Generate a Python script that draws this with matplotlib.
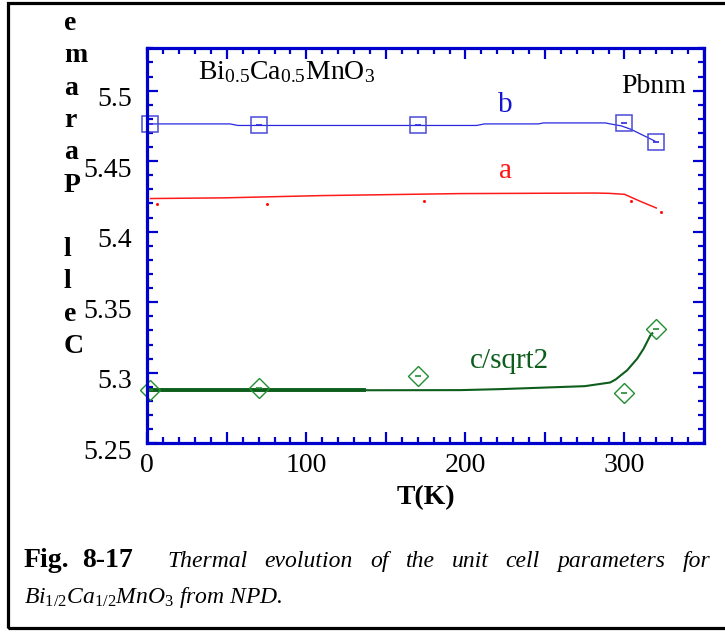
import matplotlib
matplotlib.use("Agg")
import matplotlib.pyplot as plt
from matplotlib.ticker import MultipleLocator, FuncFormatter
from matplotlib.transforms import ScaledTranslation
from matplotlib.patches import Rectangle

plt.rcParams['font.family'] = ['Liberation Serif', 'DejaVu Serif']
plt.rcParams['mathtext.fontset'] = 'custom'
plt.rcParams['mathtext.rm'] = 'Liberation Serif'
plt.rcParams['mathtext.it'] = 'Liberation Serif:italic'
plt.rcParams['mathtext.bf'] = 'Liberation Serif:bold'

# measured points (T in K, cell parameter in A)
T_pts = [2, 70, 170, 300, 320]
b_pts = [5.4764, 5.4753, 5.4753, 5.4769, 5.4638]
c_pts = [5.2876, 5.2893, 5.2975, 5.2858, 5.3307]
a_dot_T = [6, 75, 174, 304, 323]
a_dots = [5.4193, 5.4193, 5.4216, 5.4220, 5.4138]

# continuous curves
b_line_T = [2, 52, 57, 207, 212, 246, 249, 288, 292, 298, 304, 319]
b_line = [5.4764, 5.4764, 5.4753, 5.4753, 5.4764, 5.4764, 5.4771, 5.4771,
          5.4762, 5.4750, 5.4726, 5.4643]
a_line_T = [2, 49, 110, 135, 196, 281, 290, 300, 310, 320]
a_line = [5.4235, 5.4240, 5.4256, 5.4260, 5.4270, 5.4274, 5.4272, 5.4265,
          5.4215, 5.4168]
c_line_T = [2, 136, 197, 222, 275, 291, 294.4, 301.7, 308, 312, 316.3, 317.5]
c_line = [5.2876, 5.2876, 5.2877, 5.2884, 5.2905, 5.2931, 5.2952, 5.3018,
          5.3100, 5.3170, 5.3265, 5.3280]

W, H = 725, 639
fig = plt.figure(figsize=(W / 100, H / 100), dpi=100)
ax = fig.add_axes([147.3 / W, 1 - 443.3 / H, (704 - 147.3) / W, (443.3 - 48.3) / H])

blue = '#0000cc'
ax.plot(b_line_T, b_line, color='#2828e0', lw=0.9)
ax.plot(T_pts, b_pts, ls='none', marker='s', ms=12, mfc='none', mec='#4a4ad8', mew=1.1, clip_on=False)
ax.plot(T_pts, b_pts, ls='none', marker='_', ms=4, mec='#2828e0', mew=1.2, clip_on=False)

ax.plot(a_line_T, a_line, color='#ff1a1a', lw=1.1)
ax.plot(a_dot_T, a_dots, ls='none', marker='s', ms=1.0, mfc='red', mec='red')

thick = [i for i, t in enumerate(c_line_T) if t <= 136]
ax.plot(c_line_T, c_line, color='#0d5e1c', lw=1.5)
ax.plot([c_line_T[i] for i in thick], [c_line[i] for i in thick], color='#0d5e1c', lw=2.8)
ax.plot(T_pts, c_pts, ls='none', marker='D', ms=10, mfc='none', mec='#1f8f30', mew=1.0, clip_on=False)
ax.plot(T_pts, c_pts, ls='none', marker='_', ms=4, mec='#1f8f30', mew=1.2, clip_on=False)

ax.set_xlim(0, 350)
ax.set_ylim(5.25, 5.53)

ax.xaxis.set_major_locator(MultipleLocator(50))
ax.xaxis.set_minor_locator(MultipleLocator(10))
ax.xaxis.set_major_formatter(FuncFormatter(lambda v, p: f"{v:.0f}" if round(v) % 100 == 0 else ""))
ax.yaxis.set_major_locator(MultipleLocator(0.05))
ax.yaxis.set_minor_locator(MultipleLocator(0.01))
ax.yaxis.set_major_formatter(FuncFormatter(lambda v, p: f"{round(v, 2):g}"))

for s in ax.spines.values():
    s.set_color(blue)
    s.set_linewidth(2.3)
ax.tick_params(which='both', direction='in', color=blue, width=1.6,
               top=True, right=True, labelsize=20)
ax.tick_params(axis='x', which='major', length=7.7, pad=7)
ax.tick_params(axis='x', which='minor', length=4)
ax.tick_params(axis='y', which='major', length=8, pad=11)
ax.tick_params(axis='y', which='minor', length=4.3)

shift = ScaledTranslation(0, -6 / 100, fig.dpi_scale_trans)
for lab in ax.get_yticklabels():
    lab.set_transform(lab.get_transform() + shift)

# in-plot labels
ax.text(31.8, 5.5081, r"Bi$_{0.5}$Ca$_{0.5}$MnO$_3$", fontsize=20, va='baseline')
ax.text(339, 5.4982, "Pbnm", fontsize=20, ha='right', va='baseline')
ax.text(225.3, 5.4851, "b", fontsize=21, color='#1414d4', ha='center', va='baseline')
ax.text(225.3, 5.4379, "a", fontsize=21, color='#ff1414', ha='center', va='baseline')
ax.text(252.3, 5.3035, "c/sqrt2", fontsize=21, color='#0d5e1c', ha='right', va='baseline')

# axis titles
fig.text(426 / W, 1 - 498 / H, "T(K)", fontsize=20, fontweight='bold', ha='center', va='center')
ylabel = "Cell Parame"
for i, ch in enumerate(reversed(ylabel)):
    fig.text(64 / W, 1 - (30 + 32.3 * i) / H, ch, fontsize=20, fontweight='bold',
             ha='left', va='baseline')

# caption
fig.text(24 / W, 1 - 566.7 / H, "Fig.", fontsize=20, fontweight='bold', va='baseline')
fig.text(82 / W, 1 - 566.7 / H, "8-17", fontsize=20, fontweight='bold', va='baseline')
words = "Thermal evolution of the unit cell parameters for".split()
r = fig.canvas.get_renderer()
texts = [fig.text(0, 1 - 566.7 / H, w, fontsize=17, style='italic', va='baseline') for w in words]
widths = [t.get_window_extent(r).width for t in texts]
x0, x1 = 167, 710
gap = (x1 - x0 - sum(widths)) / (len(words) - 1)
x = x0
for t, w in zip(texts, widths):
    t.set_x(x / W)
    x += w + gap
fig.text(24 / W, 1 - 603 / H, r"$Bi_{1/2}Ca_{1/2}MnO_3$ from NPD.", fontsize=17,
         style='italic', va='baseline')

# frame round the figure
fig.patches.append(Rectangle((8.3 / W, 1 - 628 / H), 1.0, (628 - 3.2) / H, transform=fig.transFigure,
                             fill=False, ec='black', lw=2.3, clip_on=False))

fig.savefig("out.png", dpi=100)
